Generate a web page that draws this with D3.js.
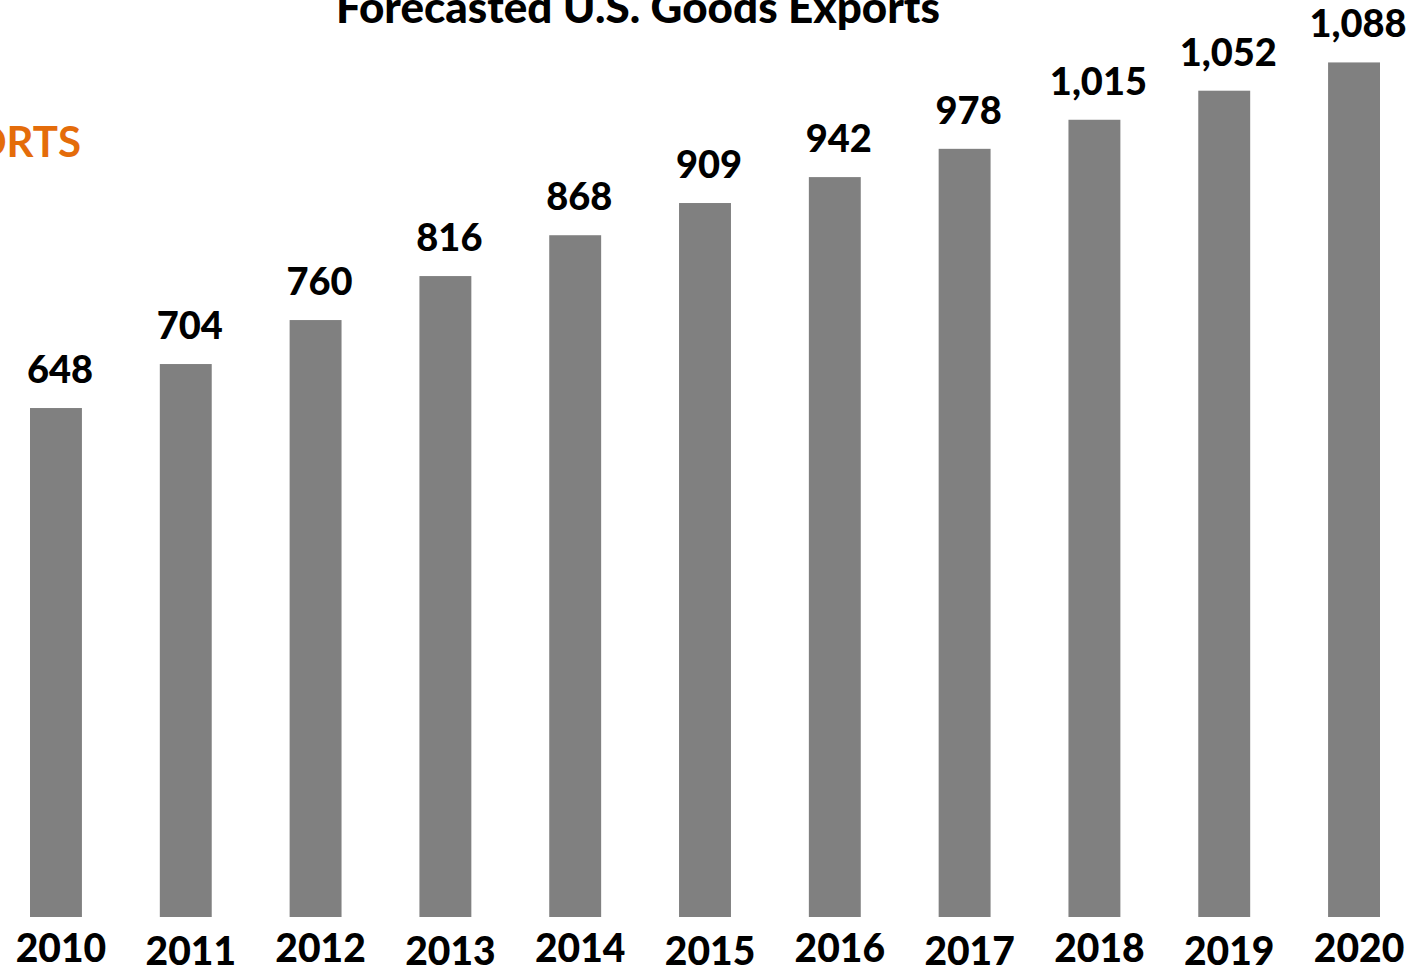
<!DOCTYPE html>
<html>
<head>
<meta charset="utf-8">
<script src="https://cdn.jsdelivr.net/npm/d3@7"></script>
<style>
  body { margin: 0; background: #fff; }
  svg { display: block; font-family: Lato, "Open Sans", sans-serif; }
</style>
</head>
<body>
<div id="chart"></div>
<script>
// data (billions, presumably)
var years = ["2010", "2011", "2012", "2013", "2014", "2015", "2016", "2017", "2018", "2019", "2020"];
var exportsValues = [648, 704, 760, 816, 868, 909, 942, 978, 1015, 1052, 1088];

var svgWidth = 1421;
var svgHeight = 965;

var svg = d3.select("#chart")
    .append("svg")
    .attr("width", svgWidth)
    .attr("height", svgHeight);

// scales
var xScale = d3.scaleBand()
    .domain(years)
    .range([30, 1380])
    .paddingInner(0.6)
    .paddingOuter(0);

var yScale = d3.scaleLinear()
    .domain([0, 1100])
    .range([917, 53]);

// title, cut off at the top like the source
svg.append("text")
    .attr("x", 638)
    .attr("y", 23)
    .attr("text-anchor", "middle")
    .style("font-size", "44px")
    .style("font-weight", 900)
    .style("fill", "#000")
    .text("Forecasted U.S. Goods Exports");

// orange side label, mostly off the left edge
svg.append("text")
    .attr("x", 81)
    .attr("y", 157)
    .attr("text-anchor", "end")
    .style("font-size", "42px")
    .style("font-weight", 700)
    .style("fill", "#E46C0A")
    .text("EXPORTS");

// bars
svg.selectAll(".bar")
    .data(exportsValues)
    .enter()
    .append("rect")
    .attr("class", "bar")
    .attr("x", (d, i) => xScale(years[i]))
    .attr("width", xScale.bandwidth())
    .attr("y", d => yScale(d))
    .attr("height", d => yScale(0) - yScale(d))
    .attr("fill", "#808080");

// value labels
svg.selectAll(".val")
    .data(exportsValues)
    .enter()
    .append("text")
    .attr("class", "val")
    .attr("x", (d, i) => xScale(years[i]) + xScale.bandwidth() / 2 + 4)
    .attr("y", d => yScale(d) - 25)
    .attr("text-anchor", "middle")
    .style("font-size", "38px")
    .style("font-weight", 900)
    .style("fill", "#000")
    .text(d => d3.format(",")(d));

// x axis, years only
var bottomAxis = d3.axisBottom(xScale).tickSize(0);

var xAxis = svg.append("g")
    .attr("class", "x-axis")
    .attr("transform", "translate(0, 917)")
    .call(bottomAxis);

xAxis.select(".domain").remove();

xAxis.selectAll("text")
    .attr("y", (d, i) => i % 2 ? 48 : 45) // odd years sit a little lower
    .attr("dy", 0)
    .attr("x", 5)
    .style("font-family", "Lato, 'Open Sans', sans-serif")
    .style("font-size", "39px")
    .style("font-weight", 900)
    .style("fill", "#000");
</script>
</body>
</html>
